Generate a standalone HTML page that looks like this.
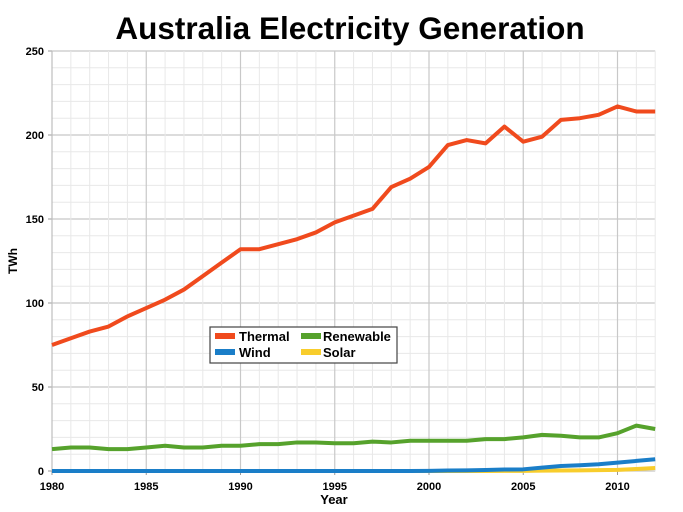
<!DOCTYPE html>
<html><head><meta charset="utf-8"><style>
html,body{margin:0;padding:0;background:#fff;}
svg{display:block;font-family:"Liberation Sans",Arial,sans-serif;}
</style></head><body>
<svg width="683" height="512" viewBox="0 0 683 512" xmlns="http://www.w3.org/2000/svg">
<rect width="683" height="512" fill="#fff"/>
<text x="350" y="39" text-anchor="middle" font-size="31.5" font-weight="bold" fill="#000">Australia Electricity Generation</text>
<g id="grid"></g>
<g id="series"></g>
<rect x="210" y="327" width="187" height="36" fill="#fff" stroke="#444" stroke-width="1.2"/>
<rect x="215" y="333" width="20" height="6" fill="#f04a1d"/>
<text x="239" y="341" font-size="13" font-weight="bold">Thermal</text>
<rect x="301" y="333" width="20" height="6" fill="#56a22c"/>
<text x="323" y="341" font-size="13" font-weight="bold">Renewable</text>
<rect x="215" y="349" width="20" height="6" fill="#1a7ec8"/>
<text x="239" y="357" font-size="13" font-weight="bold">Wind</text>
<rect x="301" y="349" width="20" height="6" fill="#f8cd2c"/>
<text x="323" y="357" font-size="13" font-weight="bold">Solar</text>
<text x="334" y="504" text-anchor="middle" font-size="13" font-weight="bold">Year</text>
<text transform="translate(17,261) rotate(-90)" text-anchor="middle" font-size="12" font-weight="bold">TWh</text>
</svg>
<script>
const ns="http://www.w3.org/2000/svg";
const X0=52,DX=18.85,Y0=471,SY=1.68;
const g=document.getElementById('grid'),s=document.getElementById('series'),svg=document.querySelector('svg');
function el(p,t,a){const e=document.createElementNS(ns,t);for(const k in a)e.setAttribute(k,a[k]);p.appendChild(e);return e;}
const xR=X0+32*DX;
for(let v=0;v<=250;v+=10){const y=Y0-v*SY;const maj=v%50==0;
 el(g,'line',{x1:X0,x2:xR,y1:y,y2:y,stroke:maj?'#c8c8c8':'#e8e8e8','stroke-width':maj?1.2:1});
 if(maj){el(g,'line',{x1:X0-4,x2:X0,y1:y,y2:y,stroke:'#999'});const t=el(svg,'text',{x:X0-8,y:y+4,'text-anchor':'end','font-size':11,'font-weight':'bold'});t.textContent=v;}}
for(let i=0;i<=32;i++){const x=X0+i*DX;const maj=i%5==0;
 el(g,'line',{x1:x,x2:x,y1:Y0-250*SY,y2:Y0,stroke:maj?'#c8c8c8':'#e8e8e8','stroke-width':maj?1.2:1});
 if(maj){el(g,'line',{x1:x,x2:x,y1:Y0,y2:Y0+4,stroke:'#999'});const t=el(svg,'text',{x:x,y:Y0+19,'text-anchor':'middle','font-size':11,'font-weight':'bold'});t.textContent=1980+i;}}
el(g,'line',{x1:X0,x2:X0,y1:Y0-250*SY,y2:Y0,stroke:'#bbb'});
const th=[75,79,83,86,92,97,102,108,116,124,132,132,135,138,142,148,152,156,169,174,181,194,197,195,205,196,199,209,210,212,217,214,214];
const re=[13,14,14,13,13,14,15,14,14,15,15,16,16,17,17,16.5,16.5,17.5,17,18,18,18,18,19,19,20,21.5,21,20,20,22.5,27,25];
const wi=[0,0,0,0,0,0,0,0,0,0,0,0,0,0,0,0,0,0,0,0,0.1,0.3,0.4,0.6,0.9,1,2,3,3.4,4,5,6,7];
const so=[0,0,0,0,0,0,0,0,0,0,0,0,0,0,0,0,0,0,0,0,0,0,0,0,0.1,0.1,0.2,0.3,0.4,0.5,0.7,1.2,1.8];
function line(d,c){el(s,'polyline',{points:d.map((v,i)=>(X0+i*DX)+','+(Y0-v*SY)).join(' '),fill:'none',stroke:c,'stroke-width':4,'stroke-linejoin':'round'});}
line(so,'#f8cd2c');line(wi,'#1a7ec8');line(re,'#56a22c');line(th,'#f04a1d');
</script>
</body></html>
